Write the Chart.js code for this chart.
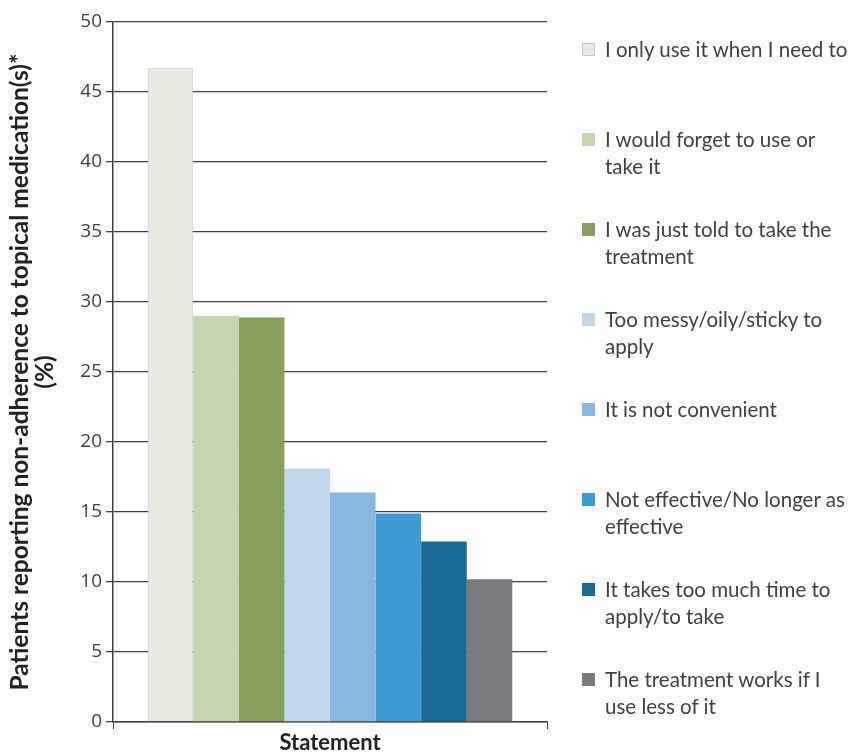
<!DOCTYPE html>
<html>
<head>
<meta charset="utf-8">
<script src="https://cdn.jsdelivr.net/npm/chart.js@4.4.0/dist/chart.umd.min.js"></script>
<style>
  html, body { margin: 0; padding: 0; background: #fff; }
  #wrap { position: relative; width: 850px; height: 754px; }
  #legenda { position: absolute; left: 582px; top: 36px; font-family: Lato, sans-serif; font-size: 20.5px; line-height: 27px; color: #404040; }
  #legenda .item { position: relative; height: 90px; padding-left: 23px; white-space: nowrap; }
  #legenda .caixa { position: absolute; left: 0; top: 7px; width: 13px; height: 13px; box-sizing: border-box; }
</style>
</head>
<body>
<div id="wrap">
  <canvas id="grafico" width="850" height="754"></canvas>
  <div id="legenda"></div>
</div>
<script>
// DADOS
const categorias = [""];
const afirmacoes = [
  ["I only use it when I need to"],
  ["I would forget to use or", "take it"],
  ["I was just told to take the", "treatment"],
  ["Too messy/oily/sticky to", "apply"],
  ["It is not convenient"],
  ["Not effective/No longer as", "effective"],
  ["It takes too much time to", "apply/to take"],
  ["The treatment works if I", "use less of it"]
];
const percentuais = [46.7, 29.0, 28.9, 18.1, 16.4, 14.9, 12.9, 10.2];
const cores = ["#E8EAE2", "#C5D5B0", "#869F5C", "#C0D7EB", "#88B7E0", "#3E9AD5", "#1A6A98", "#7A7B7F"];
const ticksY = { min: 0, max: 50, step: 5 };

const escuro = "#404040";

// datasets, um por afirmação
const datasets = afirmacoes.map((txt, i) => ({
  label: txt.join(" "),
  data: [percentuais[i]],
  backgroundColor: cores[i],
  borderColor: i === 0 ? "#C8C8C8" : cores[i],
  borderWidth: i === 0 ? 1 : 0,
  categoryPercentage: 0.84,
  barPercentage: 1.0
}));

const grafico = new Chart(document.getElementById("grafico"), {
  type: "bar",
  data: { labels: categorias, datasets },
  options: {
    responsive: false,
    animation: false,
    layout: { padding: { top: 22, right: 303, bottom: 0, left: 0 } },
    plugins: {
      tooltip: { enabled: false },
      legend: { display: false }
    },
    scales: {
      x: {
        grid: { display: true, drawOnChartArea: false, drawTicks: true, tickLength: 7, color: escuro },
        border: { color: escuro, width: 1.5 },
        ticks: { display: false },
        title: {
          display: true,
          text: "Statement",
          color: "#222",
          font: { family: "Lato", size: 22, weight: "bold", lineHeight: "22px" },
          padding: { top: 3, bottom: 0 }
        }
      },
      y: {
        min: ticksY.min,
        max: ticksY.max,
        ticks: { stepSize: ticksY.step, color: escuro, padding: 4, font: { family: "Open Sans", size: 19 } },
        grid: { color: escuro, lineWidth: 1.3, tickLength: 7 },
        border: { color: escuro, width: 1.5 },
        title: {
          display: true,
          text: ["Patients reporting non-adherence to topical medication(s)*", "(%)"],
          color: "#222",
          font: { family: "Lato", size: 24.5, weight: "bold", lineHeight: "25px" },
          padding: { top: 7.5, bottom: 0 }
        },
        afterFit: (s) => { s.width = 113; }
      }
    }
  }
});

// LEGENDA HTML (itens gerados pelo próprio Chart.js)
const legenda = document.getElementById("legenda");
const itens = Chart.defaults.plugins.legend.labels.generateLabels(grafico);
itens.forEach((it, i) => {
  const div = document.createElement("div");
  div.className = "item";
  const caixa = document.createElement("span");
  caixa.className = "caixa";
  caixa.style.background = it.fillStyle;
  if (i === 0) caixa.style.border = "1px solid #C8C8C8";
  div.appendChild(caixa);
  afirmacoes[i].forEach((linha, j) => {
    if (j > 0) div.appendChild(document.createElement("br"));
    div.appendChild(document.createTextNode(linha));
  });
  legenda.appendChild(div);
});
</script>
</body>
</html>
